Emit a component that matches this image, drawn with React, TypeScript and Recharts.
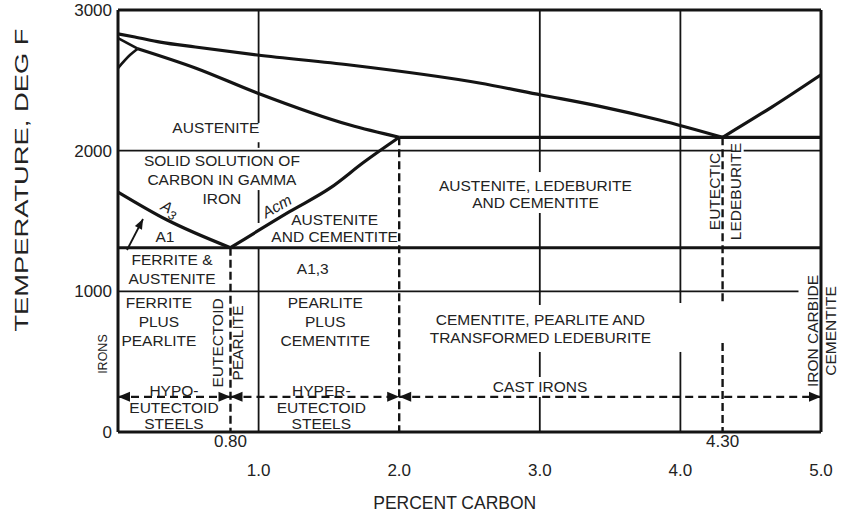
import React from 'react';
import { Label, Line, LineChart, ReferenceDot, ReferenceLine, XAxis, YAxis } from 'recharts';

type Pt = [number, number];

const INK = '#141414';
const TEXT = '#222222';
const FONT = '"Liberation Sans", Arial, Helvetica, sans-serif';

// axes: temperature in deg F, carbon in percent
const TEMP_TICKS = [0, 1000, 2000, 3000];
const CARBON_TICKS = [0.8, 1, 2, 3, 4, 4.3, 5];
const KEY_CARBON = [0.8, 4.3]; // eutectoid and eutectic, printed on the upper row

const EUTECTIC_T = 2095;
const A1_T = 1310;
const GUIDE_T = 250; // level of the steel / cast iron arrows

// phase boundaries [carbon %, deg F]
const liquidusLeft: Pt[] = [[0, 2830], [0.12, 2808], [0.3, 2772], [0.55, 2737], [0.99, 2680], [1.65, 2609], [2.57, 2481], [3.01, 2396], [3.42, 2317], [3.85, 2218], [4.3, EUTECTIC_T]];
const liquidusRight: Pt[] = [[4.3, EUTECTIC_T], [4.65, 2310], [5, 2540]];
const deltaTop: Pt[] = [[0, 2800], [0.14, 2725]];
const deltaBottom: Pt[] = [[0, 2587], [0.085, 2680], [0.14, 2725]];
const solidus: Pt[] = [[0.14, 2725], [0.55, 2588], [0.99, 2410], [1.65, 2182], [2, EUTECTIC_T]];
const a3Line: Pt[] = [[0, 1706], [0.35, 1507], [0.8, A1_T]];
const acmLine: Pt[] = [[0.8, A1_T], [1.22, 1566], [1.51, 1735], [1.75, 1919], [2, EUTECTIC_T]];
const eutecticLine: Pt[] = [[2, EUTECTIC_T], [5, EUTECTIC_T]];
const a1Line: Pt[] = [[0, A1_T], [5, A1_T]];

// thin rules, broken where the lettering sits on them
const rule2000: Pt[][] = [[[0, 2000], [4.37, 2000]], [[4.45, 2000], [5, 2000]]];
const rule1000: Pt[][] = [[[0, 1000], [4.84, 1000]]];
const spans1: Pt[] = [[3000, 2197], [2060, 2020], [1720, 1486], [A1_T, 0]];
const spans3: Pt[] = [[3000, 1848], [1557, 903], [569, 391], [249, 0]];
const spans4: Pt[] = [[3000, 917], [569, 0]];
const dashSpans08: Pt[] = [[A1_T, 0]];
const dashSpans20: Pt[] = [[EUTECTIC_T, 0]];
const dashSpans43: Pt[] = [[EUTECTIC_T, 903], [633, 0]];

const guideStops = [0, 0.8, 2, 5];
const pointer: Pt[] = [[0.064, 1294], [0.178, 1514]];

type Series = { id: string; pts: Pt[]; w: number; dash?: string; curve?: boolean; heads?: 'both' | 'end'; hl?: number; hw?: number };

const vert = (c: number, spans: Pt[]): Pt[][] => spans.map(([a, b]) => [[c, a], [c, b]]);

const SERIES: Series[] = [
  ...rule2000.map((pts, i) => ({ id: `r2000-${i}`, pts, w: 1.6 })),
  ...rule1000.map((pts, i) => ({ id: `r1000-${i}`, pts, w: 1.6 })),
  ...vert(1, spans1).map((pts, i) => ({ id: `v1-${i}`, pts, w: 1.8 })),
  ...vert(3, spans3).map((pts, i) => ({ id: `v3-${i}`, pts, w: 1.8 })),
  ...vert(4, spans4).map((pts, i) => ({ id: `v4-${i}`, pts, w: 1.8 })),
  ...vert(0.8, dashSpans08).map((pts, i) => ({ id: `d08-${i}`, pts, w: 2.4, dash: '8 4' })),
  ...vert(2, dashSpans20).map((pts, i) => ({ id: `d20-${i}`, pts, w: 2.4, dash: '8 4' })),
  ...vert(4.3, dashSpans43).map((pts, i) => ({ id: `d43-${i}`, pts, w: 2.4, dash: '8 4' })),
  ...guideStops.slice(1).map((c, i) => ({
    id: `g-${i}`,
    pts: [[guideStops[i], GUIDE_T], [c, GUIDE_T]] as Pt[],
    w: 2.4,
    dash: '8 5',
    heads: 'both' as const,
  })),
  { id: 'pointer', pts: pointer, w: 1.8, heads: 'end', hl: 10, hw: 4 },
  { id: 'eutectic', pts: eutecticLine, w: 3.2 },
  { id: 'a1', pts: a1Line, w: 3.2 },
  { id: 'liqL', pts: liquidusLeft, w: 3.2, curve: true },
  { id: 'liqR', pts: liquidusRight, w: 3.2, curve: true },
  { id: 'deltaT', pts: deltaTop, w: 2.6 },
  { id: 'deltaB', pts: deltaBottom, w: 2.6, curve: true },
  { id: 'solidus', pts: solidus, w: 3.2, curve: true },
  { id: 'a3', pts: a3Line, w: 3.2, curve: true },
  { id: 'acm', pts: acmLine, w: 3.2, curve: true },
];

type Note = { x: number; y: number; lines: string[]; lh?: number; rotate?: number; size?: number; italic?: boolean };

const NOTES: Note[] = [
  { x: 0.696, y: 2168, lines: ['AUSTENITE'] },
  { x: 0.739, y: 1795, lines: ['SOLID SOLUTION OF', 'CARBON IN GAMMA', 'IRON'], lh: 18.7 },
  { x: 0.369, y: 1592, lines: ['A_3'], italic: true, rotate: 27 },
  { x: 1.129, y: 1607, lines: ['Acm'], italic: true, rotate: -30 },
  { x: 0.334, y: 1388, lines: ['A1'] },
  { x: 1.541, y: 1450, lines: ['AUSTENITE', 'AND CEMENTITE'], lh: 17.4 },
  { x: 0.384, y: 1159, lines: ['FERRITE &', 'AUSTENITE'], lh: 18.3 },
  { x: 1.385, y: 1164, lines: ['A1,3'] },
  { x: 2.969, y: 1692, lines: ['AUSTENITE, LEDEBURITE', 'AND CEMENTITE'], lh: 17.7 },
  { x: 0.291, y: 784, lines: ['FERRITE', 'PLUS', 'PEARLITE'], lh: 19 },
  { x: 0.781, y: 633, lines: ['EUTECTOID', 'PEARLITE'], rotate: -90, lh: 20 },
  { x: 1.474, y: 784, lines: ['PEARLITE', 'PLUS', 'CEMENTITE'], lh: 19 },
  { x: 3.004, y: 737, lines: ['CEMENTITE, PEARLITE AND', 'TRANSFORMED LEDEBURITE'], lh: 18 },
  { x: 0.398, y: 176, lines: ['HYPO-', 'EUTECTOID', 'STEELS'], lh: 16.4 },
  { x: 1.446, y: 176, lines: ['HYPER-', 'EUTECTOID', 'STEELS'], lh: 16.4 },
  { x: 3.002, y: 322, lines: ['CAST IRONS'] },
  { x: 4.314, y: 1710, lines: ['EUTECTIC', 'LEDEBURITE'], rotate: -90, lh: 21 },
  { x: 5.003, y: 718, lines: ['IRON CARBIDE', 'CEMENTITE'], rotate: -90, lh: 19 },
  { x: -0.107, y: 554, lines: ['IRONS'], rotate: -90, size: 12.5 },
];

function NoteText({ cx, cy, note }: { cx: number; cy: number; note: Note }) {
  const lh = note.lh ?? 18;
  const size = note.size ?? 15.5;
  const top = -((note.lines.length - 1) * lh) / 2;
  return (
    <g transform={`translate(${cx},${cy}) rotate(${note.rotate ?? 0})`}>
      <text textAnchor="middle" fontFamily={FONT} fontSize={size} fill={TEXT} fontStyle={note.italic ? 'italic' : 'normal'}>
        {note.lines.map((line, i) => {
          const [main, sub] = line.split('_');
          return (
            <tspan key={i} x={0} y={top + i * lh} dy="0.36em">
              {main}
              {sub ? <tspan dy={4} fontSize={size * 0.8}>{sub}</tspan> : null}
            </tspan>
          );
        })}
      </text>
    </g>
  );
}

const arrowDot = (s: Series) => (p: any) => {
  const { cx, cy, index, points } = p;
  const last = s.pts.length - 1;
  const show = index === last || (index === 0 && s.heads === 'both');
  if (!show || !points || cx == null) return <g key={`d${index}`} />;
  const o = points[index === 0 ? 1 : last - 1];
  const ang = Math.atan2(cy - o.y, cx - o.x);
  const L = s.hl ?? 12;
  const H = s.hw ?? 5;
  const bx = cx - L * Math.cos(ang);
  const by = cy - L * Math.sin(ang);
  const nx = -Math.sin(ang) * H;
  const ny = Math.cos(ang) * H;
  return <polygon key={`d${index}`} points={`${cx},${cy} ${bx + nx},${by + ny} ${bx - nx},${by - ny}`} fill={INK} stroke="none" />;
};

function CarbonTick({ x, y, payload }: any) {
  const v = payload.value as number;
  const key = KEY_CARBON.includes(v);
  return (
    <text x={x} y={y + (key ? 9 : 38)} dy="0.36em" textAnchor="middle" fontSize={17} fontFamily={FONT} fill={TEXT}>
      {key ? v.toFixed(2) : v.toFixed(1)}
    </text>
  );
}

export default function App() {
  return (
    <div style={{ position: 'absolute', left: 0, top: 0, width: 843, height: 516, background: '#fff' }}>
      <LineChart width={843} height={516} margin={{ top: 10, right: 22, bottom: 0, left: 0 }}>
        <XAxis
          type="number"
          dataKey="x"
          domain={[0, 5]}
          ticks={CARBON_TICKS}
          interval={0}
          height={84}
          tickSize={0}
          tickMargin={0}
          tick={<CarbonTick />}
          axisLine={{ stroke: INK, strokeWidth: 3 }}
        >
          <Label
            content={({ viewBox }: any) => (
              <text x={viewBox.x + viewBox.width * 0.479} y={viewBox.y + 71} dy="0.36em" textAnchor="middle" fontSize={17.5} fontFamily={FONT} fill={TEXT}>
                PERCENT CARBON
              </text>
            )}
          />
        </XAxis>
        <YAxis
          type="number"
          domain={[0, 3000]}
          ticks={TEMP_TICKS}
          width={118}
          tickSize={0}
          tickMargin={6}
          tick={{ fill: TEXT, fontSize: 17, fontFamily: FONT }}
          axisLine={{ stroke: INK, strokeWidth: 3 }}
        >
          <Label
            content={({ viewBox }: any) => (
              <text
                transform={`translate(${viewBox.x + 21},${viewBox.y + viewBox.height * 0.403}) rotate(-90)`}
                dy="0.36em"
                textAnchor="middle"
                fontSize={19}
                fontFamily={FONT}
                fill={TEXT}
                textLength={303}
                lengthAdjust="spacingAndGlyphs"
              >
                TEMPERATURE, DEG F
              </text>
            )}
          />
        </YAxis>
        <ReferenceLine y={3000} stroke={INK} strokeWidth={3} />
        <ReferenceLine x={5} stroke={INK} strokeWidth={3} />
        {SERIES.map((s) => (
          <Line
            key={s.id}
            data={s.pts.map(([x, y]) => ({ x, y }))}
            dataKey="y"
            type={s.curve ? 'monotone' : 'linear'}
            stroke={INK}
            strokeWidth={s.w}
            strokeDasharray={s.dash}
            strokeLinejoin="round"
            dot={s.heads ? arrowDot(s) : false}
            activeDot={false}
            legendType="none"
            isAnimationActive={false}
          />
        ))}
        {NOTES.map((n, i) => (
          <ReferenceDot
            key={i}
            x={n.x}
            y={n.y}
            r={0}
            ifOverflow="visible"
            shape={(p: any) => <NoteText cx={p.cx} cy={p.cy} note={n} />}
          />
        ))}
      </LineChart>
    </div>
  );
}
